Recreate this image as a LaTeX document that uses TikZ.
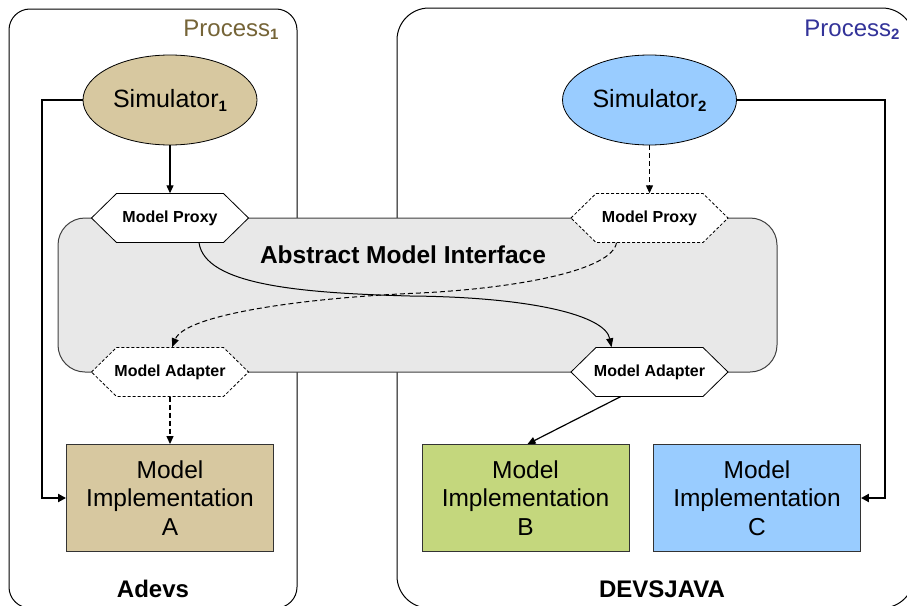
\documentclass[tikz,border=0pt]{standalone}
\usepackage{fontspec}
\setmainfont{Liberation Sans}
\usetikzlibrary{arrows.meta,calc,shapes.geometric}
\definecolor{tanfill}{RGB}{215,200,160}
\definecolor{greenfill}{RGB}{196,215,125}
\definecolor{bluefill}{RGB}{153,204,255}
\definecolor{ifill}{RGB}{232,232,232}
\definecolor{procA}{RGB}{117,100,55}
\definecolor{procB}{RGB}{51,51,153}
\newcommand\hexpath[1]{([shift={(-78.5,0)}]#1.center) -- ([shift={(-53.5,-24.5)}]#1.center) -- ([shift={(53.5,-24.5)}]#1.center) -- ([shift={(78.5,0)}]#1.center) -- ([shift={(53.5,24.5)}]#1.center) -- ([shift={(-53.5,24.5)}]#1.center) -- cycle}
\tikzset{
  procbox/.style={draw=black, line width=1pt},
  simnode/.style={ellipse, draw=black, line width=0.8pt, minimum width=174pt, minimum height=90pt, inner sep=0pt, font=\fontsize{25}{28}\selectfont},
  hexnode/.style={rectangle, minimum height=49pt, minimum width=10pt, inner sep=0pt, font=\fontsize{16}{19}\selectfont\bfseries},
  hexsolid/.style={draw=black, fill=white, line width=0.8pt},
  hexdashed/.style={draw=black, fill=white, line width=0.8pt, dash pattern=on 3pt off 2pt},
  modelbox/.style={rectangle, draw=black!80, line width=0.9pt, minimum width=207pt, minimum height=107pt, inner sep=0pt, align=center, font=\fontsize{24.5}{28.5}\selectfont},
  arr/.style={-{Triangle[length=8pt,width=7pt]}, line width=1.2pt},
  thickarr/.style={-{Triangle[length=8pt,width=8pt]}, line width=2pt},
  dasharr/.style={-{Triangle[length=8pt,width=7pt]}, line width=1.2pt, dash pattern=on 5pt off 3pt},
  curvearr/.style={-{Triangle[length=9pt,width=7pt]}, line width=1pt},
  curvedash/.style={-{Triangle[length=9pt,width=7pt]}, line width=1pt, dash pattern=on 5pt off 3pt},
  lbl/.style={font=\fontsize{24}{28}\selectfont\bfseries},
}
\newcommand\subone[1]{\raisebox{-0.3ex}{\fontsize{15}{15}\selectfont\bfseries #1}}
\begin{document}
\begin{tikzpicture}[x=1pt,y=-1pt]
\useasboundingbox (0,0) rectangle (907,605);
\clip (0,0) rectangle (907,605);
% process boxes
\draw[procbox, rounded corners=21pt] (9,9) rectangle (297,608);
\draw[procbox, rounded corners=32pt] (397,8) rectangle (914,608);
\node[anchor=base east, text=procA, font=\fontsize{24}{28}\selectfont] (p1lab) at (282,36) {Process\subone{1}};
\node[anchor=base east, text=procB, font=\fontsize{24}{28}\selectfont] (p2lab) at (903,36) {Process\subone{2}};
% interface
\draw[draw=black!75, fill=ifill, line width=1pt, rounded corners=27pt] (58,218) rectangle (777,372);
\node[font=\fontsize{24.5}{28}\selectfont\bfseries] (ami) at (403,255) {Abstract Model Interface};
% simulators
\node[simnode, fill=tanfill] (s1) at (170,100) {Simulator\subone{1}};
\node[simnode, fill=bluefill] (s2) at (649.5,100) {Simulator\subone{2}};
% hexagons
\node[hexnode] (px1) at (170,218) {};
\node[hexnode] (ad1) at (170,372) {};
\node[hexnode] (px2) at (649.5,218) {};
\node[hexnode] (ad2) at (649.5,372) {};
\draw[hexsolid] \hexpath{px1};
\draw[hexdashed] \hexpath{ad1};
\draw[hexdashed] \hexpath{px2};
\draw[hexsolid] \hexpath{ad2};
\node[hexnode] at (px1) {Model Proxy};
\node[hexnode] at (ad1) {Model Adapter};
\node[hexnode] at (px2) {Model Proxy};
\node[hexnode] at (ad2) {Model Adapter};
% models
\node[modelbox, fill=tanfill] (mA) at (170,498) {Model\\Implementation\\A};
\node[modelbox, fill=greenfill] (mB) at (525.5,498) {Model\\Implementation\\B};
\node[modelbox, fill=bluefill] (mC) at (757,498) {Model\\Implementation\\C};
% labels
\node[lbl] (adevs) at (153,589) {Adevs};
\node[lbl] (devsjava) at (662,589) {DEVSJAVA};
% connectors
\draw[arr] (s1.south) -- (px1.north);
\draw[dasharr] (s2.south) -- (px2.north);
\draw[dasharr] (ad1.south) -- (mA.north);
\draw[arr] ([xshift=-29pt]ad2.south) -- ([xshift=2pt]mB.north);
\draw[thickarr] (s1.west) -- ++(-41,0) |- (mA.west);
\draw[thickarr] (s2.east) -- ++(148,0) |- (mC.east);
\coordinate (c1) at (410,296);
\coordinate (c2) at (420,293);
\draw[curvearr] ([xshift=29pt]px1.south) .. controls (205,285) and (300,293) .. (c1) .. controls (530,297) and (605,315) .. ([xshift=-38pt]ad2.north);
\draw[curvedash] ([xshift=-33pt]px2.south) .. controls (612,270) and (520,288) .. (c2) .. controls (300,298) and (185,315) .. ([xshift=2pt]ad1.north);
\end{tikzpicture}
\end{document}
